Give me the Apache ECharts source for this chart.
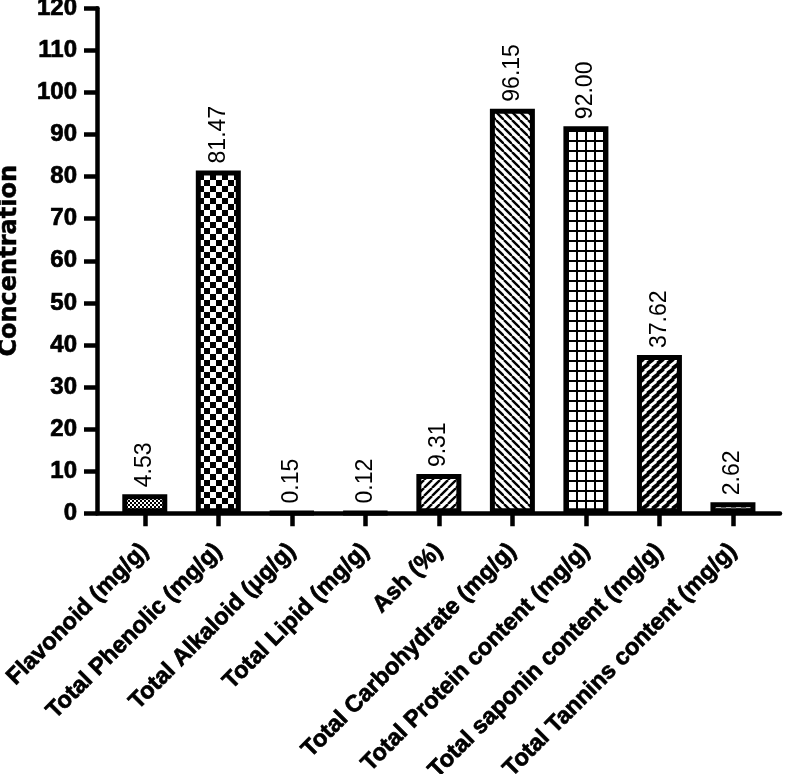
<!DOCTYPE html>
<html>
<head>
<meta charset="utf-8">
<script src="https://cdn.jsdelivr.net/npm/echarts@6/dist/echarts.min.js"></script>
<style>
html,body{margin:0;padding:0;background:#fff;}
#chart{width:787px;height:774px;}
</style>
</head>
<body>
<div id="chart"></div>
<script>
const categories = ['Flavonoid (mg/g)', 'Total Phenolic (mg/g)', 'Total Alkaloid (\u03bcg/g)', 'Total Lipid (mg/g)', 'Ash (%)', 'Total Carbohydrate (mg/g)', 'Total Protein content (mg/g)', 'Total saponin content (mg/g)', 'Total Tannins content (mg/g)'];
const values = [4.53, 81.47, 0.15, 0.12, 9.31, 96.15, 92.00, 37.62, 2.62];
const patternKinds = ['fineChecker', 'checker', 'plain', 'plain', 'slashFwd', 'slashBack', 'grid', 'bricks', 'dashes'];
const yMin = 0, yMax = 120, yInterval = 10;
const yTitle = 'Concentration';

function makePattern(kind) {
  const c = document.createElement('canvas');
  let w = 8, h = 8;
  if (kind === 'fineChecker') { w = 4; h = 4; }
  if (kind === 'checker') { w = 12; h = 12; }
  if (kind === 'grid') { w = 9; h = 10; }
  if (kind === 'bricks') { w = 10; h = 10; }
  if (kind === 'dashes') { w = 10; h = 8; }
  c.width = w; c.height = h;
  const g = c.getContext('2d');
  g.fillStyle = '#fff'; g.fillRect(0, 0, w, h);
  g.fillStyle = '#000'; g.strokeStyle = '#000';
  if (kind === 'fineChecker') {
    g.fillRect(0, 0, 2, 2); g.fillRect(2, 2, 2, 2);
  } else if (kind === 'checker') {
    g.fillRect(0, 0, 6, 6); g.fillRect(6, 6, 6, 6);
  } else if (kind === 'slashFwd' || kind === 'slashBack') {
    g.lineWidth = 2.4;
    for (let k = -1; k <= 1; k++) {
      g.beginPath();
      if (kind === 'slashFwd') { g.moveTo(k * w, h); g.lineTo(k * w + w, 0); }
      else { g.moveTo(k * w, 0); g.lineTo(k * w + w, h); }
      g.stroke();
    }
  } else if (kind === 'grid') {
    g.fillRect(0, 0, 2, h); g.fillRect(0, 0, w, 2);
  } else if (kind === 'bricks' || kind === 'dashes') {
    const fg = kind === 'bricks' ? '#fff' : '#000';
    if (kind === 'bricks') { g.fillStyle = '#000'; g.fillRect(0, 0, w, h); }
    g.strokeStyle = fg; g.lineWidth = 3;
    const segs = kind === 'bricks' ? [[0, 6, 6, 1.5], [5, 11, 11, 6.5]] : [[1, 2, 6, 2], [6, 6, 11, 6]];
    for (const s of segs) {
      for (let dx = -w; dx <= w; dx += w) {
        for (let dy = -h; dy <= h; dy += h) {
          g.beginPath(); g.moveTo(s[0] + dx, s[1] + dy); g.lineTo(s[2] + dx, s[3] + dy); g.stroke();
        }
      }
    }
  }
  return { image: c, repeat: 'repeat' };
}

const FONT = '"Liberation Sans", Arial, Helvetica, sans-serif';
const TITLE_FONT = '"DejaVu Sans", "Liberation Sans", sans-serif';
const idx = categories.map((_, i) => i);

const chart = echarts.init(document.getElementById('chart'), null, { renderer: 'canvas' });
chart.setOption({
  animation: false,
  backgroundColor: '#fff',
  grid: { left: 97, right: 7, top: 8.3, bottom: 260.7, containLabel: false, outerBoundsMode: 'none' },
  xAxis: {
    type: 'value',
    min: -0.65,
    max: 8.64,
    splitLine: { show: false },
    axisLine: { show: true, onZero: false, lineStyle: { color: '#000', width: 4.5 } },
    axisTick: { show: true, customValues: idx, length: 13, lineStyle: { color: '#000', width: 4.5 } },
    axisLabel: {
      customValues: idx,
      rotate: 45,
      margin: 34,
      color: '#000',
      fontFamily: FONT,
      fontWeight: 'bold',
      fontSize: 23.5,
      textBorderColor: '#000',
      textBorderWidth: 0.7,
      hideOverlap: false,
      formatter: (v) => categories[Math.round(v)]
    }
  },
  yAxis: {
    type: 'value',
    min: yMin,
    max: yMax,
    interval: yInterval,
    name: yTitle,
    nameLocation: 'middle',
    nameGap: 75,
    nameRotate: 90,
    nameTextStyle: { color: '#000', fontFamily: TITLE_FONT, fontWeight: 'bold', fontSize: 24, textBorderColor: '#000', textBorderWidth: 0.5 },
    splitLine: { show: false },
    axisLine: { show: true, onZero: false, lineStyle: { color: '#000', width: 4.5 } },
    axisTick: { show: true, length: 13, lineStyle: { color: '#000', width: 4.5 } },
    axisLabel: { margin: 20, color: '#000', fontFamily: FONT, fontWeight: 'bold', fontSize: 24, textBorderColor: '#000', textBorderWidth: 0.7 }
  },
  series: [{
    type: 'bar',
    barWidth: 45,
    data: values.map((v, i) => ({
      value: [i, v],
      itemStyle: { color: makePattern(patternKinds[i]), borderColor: '#000', borderWidth: 5 }
    })),
    label: {
      show: true,
      position: 'top',
      rotate: 90,
      align: 'left',
      verticalAlign: 'middle',
      distance: 7,
      color: '#000',
      fontFamily: FONT,
      fontSize: 23,
      formatter: (p) => p.value[1].toFixed(2)
    }
  }]
});
</script>
</body>
</html>
